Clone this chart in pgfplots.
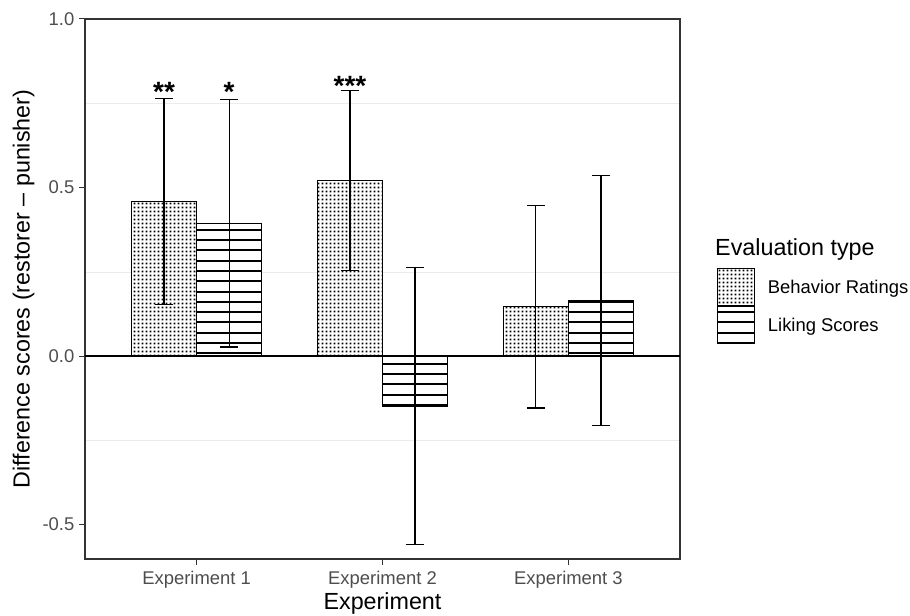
\documentclass[border=0pt]{standalone}
\usepackage{pgfplots}
\pgfplotsset{compat=1.18}
\usepackage{fontspec}
\setmainfont{Liberation Sans}
\usetikzlibrary{patterns}
\definecolor{gtext}{HTML}{4D4D4D}
\definecolor{gline}{HTML}{333333}
\definecolor{ggrid}{HTML}{EBEBEB}
\pgfdeclarepatternformonly{sqdots}{\pgfpoint{0bp}{0bp}}{\pgfpoint{3.5bp}{3.5bp}}{\pgfpoint{3.5bp}{3.5bp}}{%
  \pgfpathrectangle{\pgfpoint{0.8bp}{0.8bp}}{\pgfpoint{1.9bp}{1.9bp}}\pgfusepath{fill}}
\pgfdeclarepatternformonly{thickhlines}{\pgfpoint{-1bp}{0bp}}{\pgfpoint{11bp}{10.3bp}}{\pgfpoint{10bp}{10.3bp}}{%
  \pgfsetlinewidth{2bp}\pgfpathmoveto{\pgfpoint{-1bp}{5.15bp}}\pgfpathlineto{\pgfpoint{11bp}{5.15bp}}\pgfusepath{stroke}}
\pgfplotsset{
  boxlegend/.style={legend image code/.code={\draw[##1] (0bp,-18.5bp) rectangle (37bp,18.5bp);}},
  ebars/.style={error bars/.cd, y dir=both, y explicit,
    error bar style={black, line width=1.1bp},
    error mark options={black, rotate=90, mark size=9bp, line width=1.1bp}},
}
\begin{document}
\begin{tikzpicture}
\begin{axis}[
  name=ax,
  scale only axis, width=595bp, height=540bp,
  xmin=0.4, xmax=3.6, ymin=-0.602, ymax=1.0,
  clip=false,
  ybar=0pt, bar width=0.35,
  xtick={1,2,3}, xticklabels={Experiment 1,Experiment 2,Experiment 3},
  ytick={-0.5,0,0.5,1}, minor ytick={-0.25,0.25,0.75},
  yminorgrids=true, ymajorgrids=false, xmajorgrids=false,
  minor grid style={ggrid, line width=0.6bp},
  minor tick length=0pt, major tick length=5.5bp,
  tick align=outside, xtick pos=bottom, ytick pos=left,
  tick style={gline, line width=1bp},
  axis line style={gline, line width=1.1bp},
  ticklabel style={font=\fontsize{18.5}{20}\selectfont, text=gtext},
  xticklabel style={anchor=north, inner sep=0pt, yshift=-6bp},
  yticklabel style={anchor=east, inner sep=0pt, xshift=-5bp},
  /pgf/number format/fixed, /pgf/number format/fixed zerofill,
  /pgf/number format/precision=1, /pgf/number format/assume math mode=true,
  xlabel={Experiment},
  xlabel style={at={(rel axis cs:0.5,-0.0815)}, anchor=center, inner sep=0pt, font=\fontsize{23.4}{26}\selectfont},
  ylabel={Difference scores (restorer – punisher)},
  ylabel style={at={(rel axis cs:-0.1034,0.5)}, anchor=center, inner sep=0pt, font=\fontsize{23.4}{26}\selectfont},
  legend style={at={(rel axis cs:1.0617,0.538)}, anchor=north west, draw=none, fill=none,
    inner sep=0pt, outer sep=0pt, row sep=0pt, column sep=13.4bp,
    font=\fontsize{18.5}{20}\selectfont, nodes={inner sep=0pt}},
  legend cell align=left,
]
\addplot[draw=black, line width=0.8bp, fill=white, postaction={pattern=sqdots}, boxlegend, ebars]
  coordinates {(1,0.458) +- (0,0.305) (2,0.522) +- (0,0.267) (3,0.146) +- (0,0.300)};
\addlegendentry{Behavior Ratings}
\addplot[draw=black, line width=0.8bp, fill=white, postaction={pattern=thickhlines}, boxlegend, ebars]
  coordinates {(1,0.394) +- (0,0.367) (2,-0.148) +- (0,0.412) (3,0.166) +- (0,0.371)};
\addlegendentry{Liking Scores}
\addplot[sharp plot, black, line width=1.6bp, forget plot] coordinates {(0.4,0) (3.6,0)};
\node[anchor=base, inner sep=0pt, font=\bfseries\fontsize{28}{30}\selectfont] at (axis cs:0.825,0.756) {**};
\node[anchor=base, inner sep=0pt, font=\bfseries\fontsize{28}{30}\selectfont] at (axis cs:1.175,0.756) {*};
\node[anchor=base, inner sep=0pt, font=\bfseries\fontsize{28}{30}\selectfont] at (axis cs:1.825,0.772) {***};
\node[anchor=west, inner sep=0pt, font=\fontsize{23.4}{26}\selectfont] at (rel axis cs:1.0589,0.573) {Evaluation type};
\end{axis}
\pgfresetboundingbox
\path ([xshift=-85bp,yshift=-57bp]ax.south west) rectangle ([xshift=230bp,yshift=19bp]ax.north east);
\end{tikzpicture}
\end{document}
